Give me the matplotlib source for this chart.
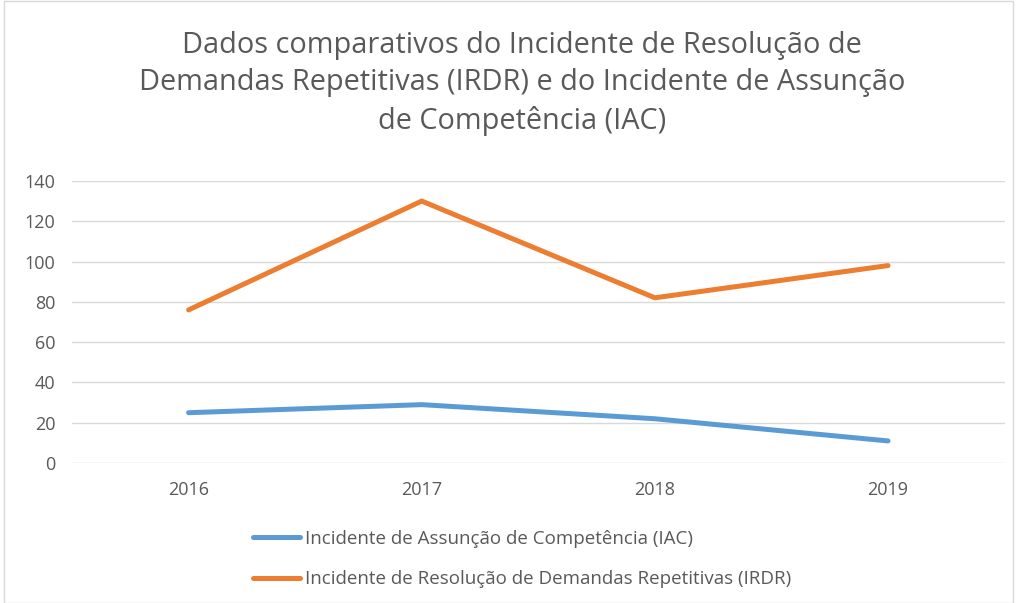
import matplotlib.pyplot as plt
from matplotlib.patches import Rectangle

plt.switch_backend('agg')

years = ['2016', '2017', '2018', '2019']
iac = [25, 29, 22, 11]
irdr = [76, 130, 82, 98]
labels = ['Incidente de Assunção de Competência (IAC)',
          'Incidente de Resolução de Demandas Repetitivas (IRDR)']
title = ('Dados comparativos do Incidente de Resolução de\n'
         'Demandas Repetitivas (IRDR) e do Incidente de Assunção\n'
         'de Competência (IAC)')

plt.rcParams['font.family'] = ['Open Sans', 'DejaVu Sans']
txtc = '#595959'

fig = plt.figure(figsize=(10.17, 6.03), dpi=100)
ax = fig.add_axes([0.0708, 0.232, 0.917, 0.468])

x = range(len(years))
l1, = ax.plot(x, iac, color='#5B9BD5', lw=3.6, solid_capstyle='round')
l2, = ax.plot(x, irdr, color='#ED7D31', lw=3.6, solid_capstyle='round')

ax.set_xlim(-0.5, len(years) - 0.5)
ax.set_ylim(0, 140)
ax.set_yticks(range(0, 141, 20))
ax.set_xticks(list(x))
ax.set_xticklabels(years)
ax.grid(axis='y', color='#D9D9D9', lw=1)
ax.set_axisbelow(True)
for s in ax.spines.values():
    s.set_visible(False)
ax.tick_params(length=0, labelsize=13, colors=txtc, pad=12)
ax.tick_params(axis='x', pad=13)

fig.text(0.513, 0.948, title, ha='center', va='top', fontsize=20.8,
         color=txtc, linespacing=1.36)

fig.legend([l1, l2], labels, loc='upper left', bbox_to_anchor=(0.249, 0.121),
           frameon=False, fontsize=13.5, labelcolor=txtc, handlelength=2.5,
           handletextpad=0.27, labelspacing=1.18, borderaxespad=0, borderpad=0)

fig.patches.append(Rectangle((0.004, 0), 0.992, 0.999, transform=fig.transFigure,
                             fill=False, ec='#D9D9D9', lw=1))

fig.savefig('out.png', dpi=100)
